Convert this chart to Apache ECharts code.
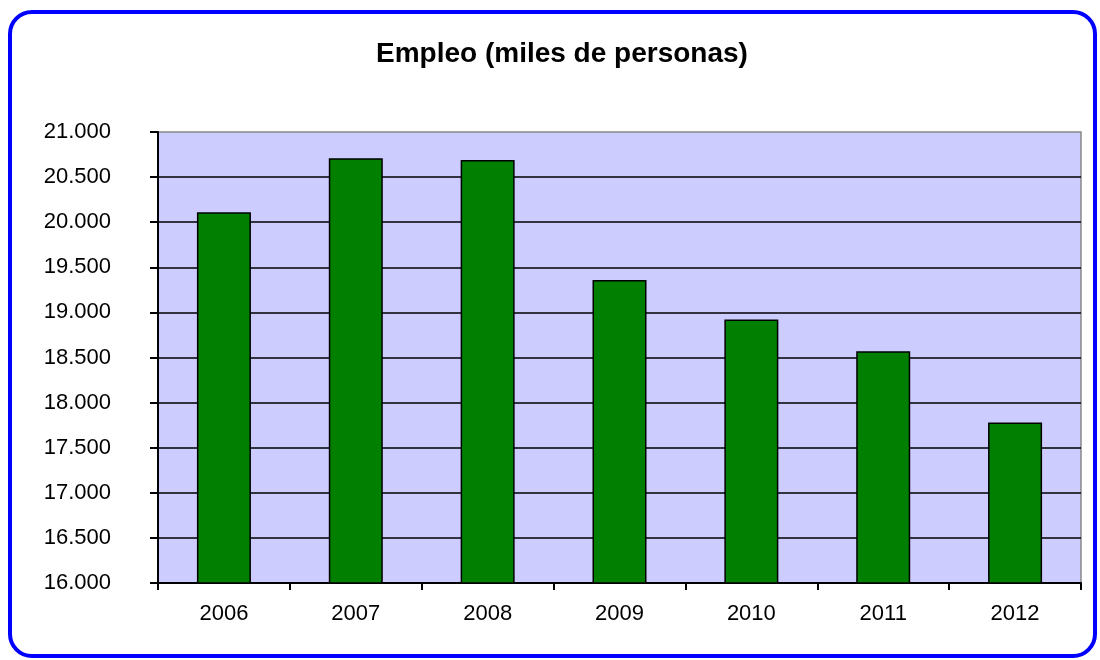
<!DOCTYPE html>
<html>
<head>
<meta charset="utf-8">
<script src="https://cdn.jsdelivr.net/npm/echarts@6/dist/echarts.min.js"></script>
<style>
html,body{margin:0;padding:0;background:#fff;}
#chart{width:1100px;height:660px;}
</style>
</head>
<body>
<div id="chart"></div>
<script>
const titleText = 'Empleo (miles de personas)';
const years = ['2006', '2007', '2008', '2009', '2010', '2011', '2012'];
const empleo = [20110, 20710, 20690, 19360, 18920, 18570, 17780];
const yMin = 16000, yMax = 21000, yStep = 500;

function fmt(v) {
  return String(v).replace(/\B(?=(\d{3})+(?!\d))/g, '.');
}

const chart = echarts.init(document.getElementById('chart'), null, {renderer: 'canvas'});
chart.setOption({
  animation: false,
  backgroundColor: '#ffffff',
  textStyle: {fontFamily: 'Liberation Sans, Arial, sans-serif'},
  title: {
    text: titleText,
    left: 371,
    top: 35,
    textStyle: {fontSize: 28, fontWeight: 'bold', color: '#000', fontFamily: 'Liberation Sans, Arial, sans-serif'}
  },
  graphic: [{
    type: 'rect',
    shape: {x: 10, y: 12, width: 1085, height: 644, r: 22},
    style: {fill: 'none', stroke: '#0000FF', lineWidth: 4},
    z: 100
  }],
  grid: {
    left: 158, right: 19, top: 132, bottom: 77,
    show: true,
    backgroundColor: '#CCCCFF',
    borderColor: '#888888',
    borderWidth: 1.5
  },
  xAxis: {
    type: 'category',
    data: years,
    boundaryGap: true,
    axisLine: {lineStyle: {color: '#000', width: 2}},
    axisTick: {show: true, length: 7, alignWithLabel: false, lineStyle: {color: '#000', width: 2}},
    axisLabel: {color: '#000', fontSize: 22, margin: 20, fontFamily: 'Liberation Sans, Arial, sans-serif'}
  },
  yAxis: {
    type: 'value',
    min: yMin, max: yMax, interval: yStep,
    axisLine: {show: true, lineStyle: {color: '#000', width: 2}},
    axisTick: {show: true, length: 8, lineStyle: {color: '#000', width: 2}},
    axisLabel: {color: '#000', fontSize: 22, margin: 47, formatter: fmt, fontFamily: 'Liberation Sans, Arial, sans-serif'},
    splitLine: {show: true, showMaxLine: false, lineStyle: {color: '#000', width: 1.5}}
  },
  series: [{
    type: 'bar',
    data: empleo,
    barWidth: 54,
    itemStyle: {color: '#007F00', borderColor: '#000', borderWidth: 1.5}
  }]
});
</script>
</body>
</html>
